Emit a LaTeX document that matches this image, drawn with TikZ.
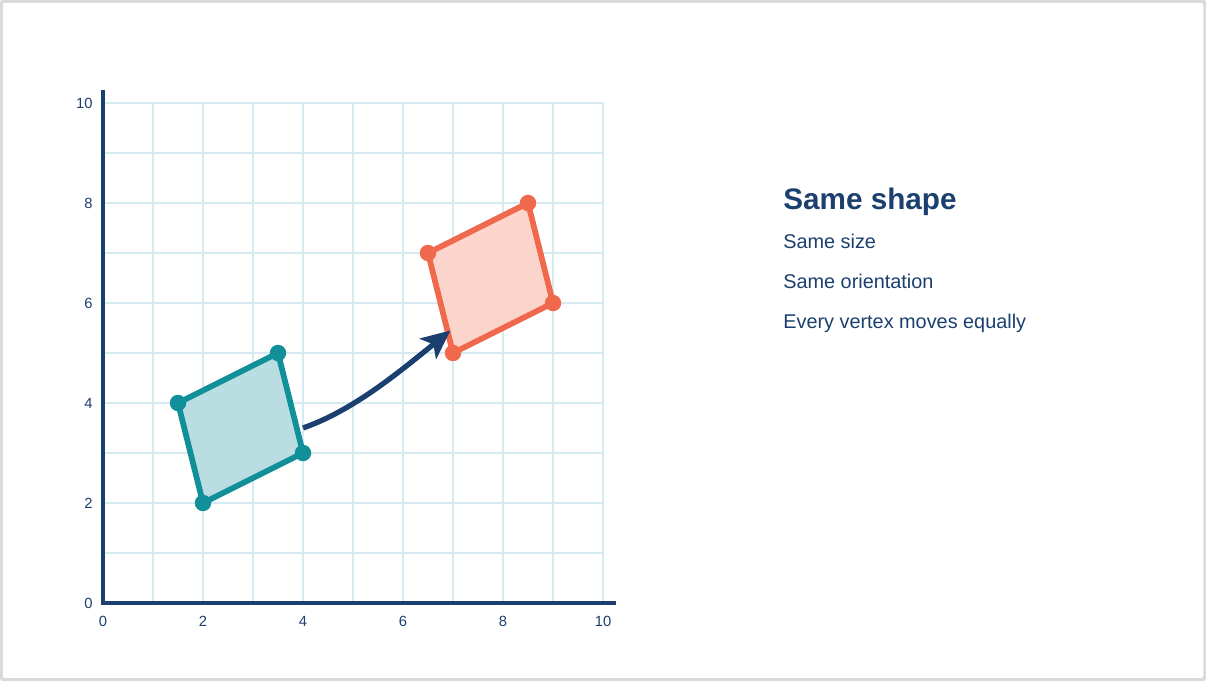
\documentclass[tikz,border=0pt]{standalone}
\usepackage{fontspec}
\setmainfont{Liberation Sans}
\usetikzlibrary{arrows.meta}
\definecolor{navy}{HTML}{1B3F6E}
\definecolor{gridc}{HTML}{D8EAF1}
\definecolor{tealc}{HTML}{12909A}
\definecolor{tealf}{HTML}{B9DDE1}
\definecolor{orc}{HTML}{F1694C}
\definecolor{orf}{HTML}{FBD4CB}
\definecolor{framec}{HTML}{DADADA}
\tikzset{
  ticklab/.style={font=\fontsize{8.4pt}{9pt}\selectfont, text=navy, inner sep=0pt},
  vdot/.style={circle, inner sep=0pt, minimum size=0.33cm},
  tealdot/.style={vdot, fill=tealc},
  ordot/.style={vdot, fill=orc},
  shapeline/.style={line width=3.3pt, line join=round},
  title/.style={font=\bfseries\fontsize{16.9pt}{19pt}\selectfont, text=navy, anchor=base west, inner sep=0pt},
  item/.style={font=\fontsize{11.3pt}{13pt}\selectfont, text=navy, anchor=base west, inner sep=0pt}
}
\begin{document}
\begin{tikzpicture}
\useasboundingbox (-2.06,-1.56) rectangle (22.06,12.06);
\draw[framec, line width=2pt, rounded corners=2pt] (-2.04,-1.54) rectangle (22.04,12.04);
% grid
\draw[gridc, line width=1pt] (0,0) grid (10,10);
% axes
\draw[navy, line width=1.8pt] (0,10.26) -- (0,0) -- (10.26,0);
% tick labels
\foreach \v in {0,2,4,6,8,10} {
  \node[ticklab, anchor=east] (yl\v) at (-0.2,\v) {\v};
  \node[ticklab] (xl\v) at (\v,-0.37) {\v};
}
% teal shape
\coordinate (a1) at (1.5,4);
\coordinate (a2) at (3.5,5);
\coordinate (a3) at (4,3);
\coordinate (a4) at (2,2);
\draw[shapeline, tealc, fill=tealf] (a1) -- (a2) -- (a3) -- (a4) -- cycle;
\foreach \p in {a1,a2,a3,a4} \node[tealdot] (d\p) at (\p) {};
% orange shape
\coordinate (b1) at (6.5,7);
\coordinate (b2) at (8.5,8);
\coordinate (b3) at (9,6);
\coordinate (b4) at (7,5);
\draw[shapeline, orc, fill=orf] (b1) -- (b2) -- (b3) -- (b4) -- cycle;
\foreach \p in {b1,b2,b3,b4} \node[ordot] (d\p) at (\p) {};
% arrow
\coordinate (as) at (4,3.5);
\coordinate (ae) at (6.95,5.45);
\draw[navy, line width=3pt, -{Stealth[length=0.58cm, width=0.52cm, inset=0.14cm]}]
  (as) .. controls (5,3.85) and (5.9,4.6) .. (ae);
% text
\node[title] (t0) at (13.6,7.87) {Same shape};
\node[item] (t1) at (13.6,7.09) {Same size};
\node[item] (t2) at (13.6,6.29) {Same orientation};
\node[item] (t3) at (13.6,5.49) {Every vertex moves equally};
\end{tikzpicture}
\end{document}
